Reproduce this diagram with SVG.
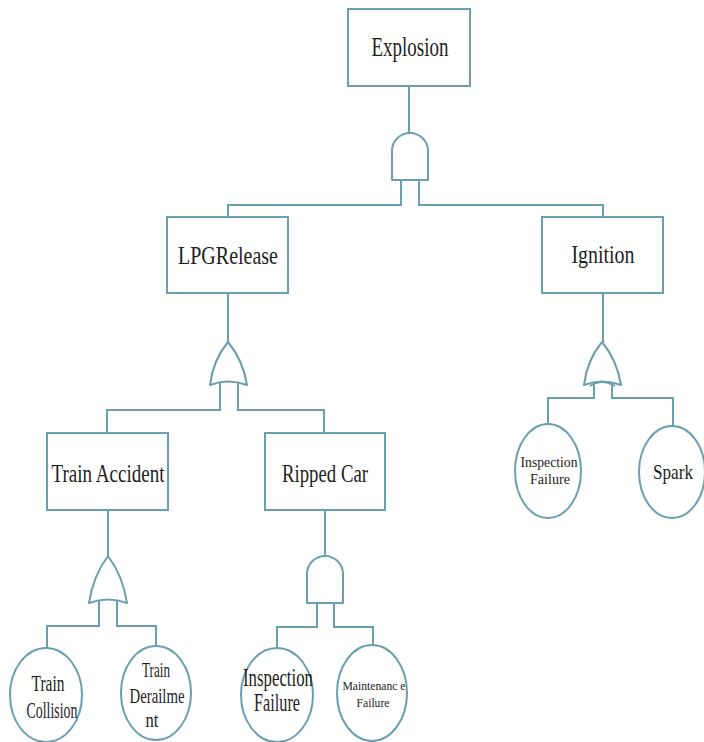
<svg xmlns="http://www.w3.org/2000/svg" width="704" height="742" viewBox="0 0 704 742">
<style>
.box{fill:#fff;stroke:#6a9fb0;stroke-width:2}
.ell{fill:#fff;stroke:#6a9fb0;stroke-width:2}
.gate{fill:#fff;stroke:#6a9fb0;stroke-width:2;stroke-linejoin:round}
.wire{fill:none;stroke:#6a9fb0;stroke-width:2}
text{fill:#1e1e1e;text-anchor:middle}
</style>
<rect width="704" height="742" fill="#fff"/>
<g id="connectors">
<path class="wire" d="M409,86 V134"/>
<path class="wire" d="M401,178 V205 H228 V217"/>
<path class="wire" d="M419,178 V205 H603 V217"/>
<path class="wire" d="M228,293 V344"/>
<path class="wire" d="M220,382 V410 H107 V433"/>
<path class="wire" d="M238,382 V410 H324 V433"/>
<path class="wire" d="M603,293 V344"/>
<path class="wire" d="M594,385 V398 H548 V423"/>
<path class="wire" d="M612,385 V398 H673 V426"/>
<path class="wire" d="M108,510 V558"/>
<path class="wire" d="M99,600 V626 H47 V648"/>
<path class="wire" d="M117,600 V626 H156 V646"/>
<path class="wire" d="M325,510 V556"/>
<path class="wire" d="M317,603 V627 H277 V648"/>
<path class="wire" d="M334,603 V627 H373 V645"/>
</g>
<g font-family="Liberation Serif">
<g id="explosion">
<rect class="box" x="348" y="9" width="122" height="77"/>
<text x="410" y="56" font-size="28" textLength="77" lengthAdjust="spacingAndGlyphs">Explosion</text>
</g>
<g id="gate-and-top">
<path class="gate" d="M392,180 V151 A18,18 0 0 1 428,151 V180 Z"/>
</g>
<g id="lpg-release">
<rect class="box" x="167" y="217" width="121" height="76"/>
<text x="228" y="264" font-size="25" textLength="100" lengthAdjust="spacingAndGlyphs">LPGRelease</text>
</g>
<g id="ignition">
<rect class="box" x="542" y="217" width="121" height="76"/>
<text x="603" y="263" font-size="25" textLength="63" lengthAdjust="spacingAndGlyphs">Ignition</text>
</g>
<g id="gate-or-lpg">
<path class="gate" d="M228,342 Q213,360 210,385 Q228,378 247,385 Q243,360 228,342 Z"/>
</g>
<g id="gate-or-ignition">
<path class="gate" d="M602,342 Q587,360 584,385 Q602,378 621,385 Q617,360 602,342 Z"/>
<path class="wire" d="M590,386 Q602,378 615,386"/>
</g>
<g id="train-accident">
<rect class="box" x="47" y="433" width="121" height="77"/>
<text x="108" y="482" font-size="26" textLength="113" lengthAdjust="spacingAndGlyphs">Train Accident</text>
</g>
<g id="ripped-car">
<rect class="box" x="265" y="433" width="120" height="77"/>
<text x="325" y="482" font-size="26" textLength="86" lengthAdjust="spacingAndGlyphs">Ripped Car</text>
</g>
<g id="gate-or-train">
<path class="gate" d="M108,556 Q93,576 89,603 Q108,596 127,603 Q123,576 108,556 Z"/>
</g>
<g id="gate-and-ripped">
<path class="gate" d="M307,603 V574 A18,18 0 0 1 343,574 V603 Z"/>
</g>
<g id="inspection-failure-ign">
<ellipse class="ell" cx="548" cy="471" rx="33" ry="47"/>
<text x="549" y="467" font-size="15" textLength="57" lengthAdjust="spacingAndGlyphs">Inspection</text>
<text x="550" y="484" font-size="15" textLength="40" lengthAdjust="spacingAndGlyphs">Failure</text>
</g>
<g id="spark">
<ellipse class="ell" cx="672" cy="472" rx="33" ry="46"/>
<text x="673" y="479" font-size="21" textLength="40" lengthAdjust="spacingAndGlyphs">Spark</text>
</g>
<g id="train-collision">
<ellipse class="ell" cx="46" cy="695" rx="36" ry="47"/>
<text x="48" y="691" font-size="23" textLength="33" lengthAdjust="spacingAndGlyphs">Train</text>
<text x="52" y="718" font-size="23" textLength="51" lengthAdjust="spacingAndGlyphs">Collision</text>
</g>
<g id="train-derailment">
<ellipse class="ell" cx="156" cy="693" rx="35" ry="47"/>
<text x="156" y="677" font-size="22" textLength="28" lengthAdjust="spacingAndGlyphs">Train</text>
<text x="157" y="703" font-size="22" textLength="55" lengthAdjust="spacingAndGlyphs">Derailme</text>
<text x="152" y="727" font-size="22" textLength="13" lengthAdjust="spacingAndGlyphs">nt</text>
</g>
<g id="inspection-failure">
<ellipse class="ell" cx="277" cy="695" rx="36" ry="47"/>
<text x="278" y="686" font-size="25" textLength="70" lengthAdjust="spacingAndGlyphs">Inspection</text>
<text x="277" y="711" font-size="25" textLength="46" lengthAdjust="spacingAndGlyphs">Failure</text>
</g>
<g id="maintenance-failure">
<ellipse class="ell" cx="372" cy="693" rx="35" ry="48"/>
<text x="374" y="690" font-size="12" textLength="63" lengthAdjust="spacingAndGlyphs">Maintenanc e</text>
<text x="373" y="707" font-size="12" textLength="33" lengthAdjust="spacingAndGlyphs">Failure</text>
</g>
</g>
</svg>
